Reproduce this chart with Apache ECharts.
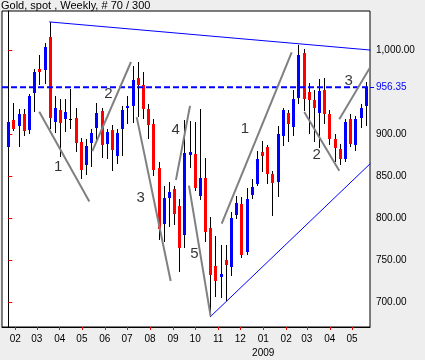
<!DOCTYPE html>
<html><head><meta charset="utf-8">
<script src="https://cdn.jsdelivr.net/npm/echarts@6/dist/echarts.min.js"></script>
<style>html,body{margin:0;padding:0;background:#eeeeee;}#c{width:425px;height:360px;}</style>
</head><body><div id="c"></div>
<script>
const titleText = 'Gold, spot , Weekly, # 70 / 300';
// weekly OHLC, 70 bars (late Jan 2008 .. late May 2009)
const openP  = [884.6,916.8,910.1,923.9,905.7,949.1,978.4,976.3,1016.6,914.8,929.0,918.0,918.0,920.0,890.5,863.6,889.6,907.4,927.8,888.4,905.4,873.9,907.0,931.0,933.8,967.3,958.8,929.8,912.1,860.1,793.0,824.2,835.2,814.5,780.0,875.8,876.6,827.3,848.0,788.7,743.5,730.3,750.8,741.7,804.3,817.7,759.5,828.5,841.1,878.6,885.3,853.0,843.0,898.3,926.0,909.4,943.7,996.9,950.3,940.5,925.9,953.5,923.9,894.4,883.0,870.7,918.8,887.0,920.0,933.8];
const highP  = [924.8,937.8,929.8,929.8,947.6,978.0,994.9,1008.8,1033.6,945.6,941.7,941.7,954.7,931.9,896.4,894.4,906.2,937.0,931.9,907.0,910.9,907.0,933.8,945.6,981.1,986.6,974.8,935.8,918.0,866.8,839.1,843.5,839.1,823.4,917.2,915.7,914.5,930.6,871.6,801.7,779.0,768.0,769.0,808.0,827.3,825.7,836.0,847.0,880.5,892.5,887.3,856.9,910.2,931.9,929.0,952.7,1006.7,1001.6,961.4,953.5,966.2,967.3,929.0,900.3,889.0,918.0,923.9,922.0,935.8,962.1];
const lowP   = [850.2,904.2,885.3,897.8,900.3,926.7,959.4,960.6,907.0,902.3,872.7,903.0,906.2,878.6,847.0,851.8,860.9,889.3,871.5,870.7,856.8,864.8,874.6,912.0,914.1,920.4,918.0,894.4,850.2,774.1,772.2,789.9,791.8,736.7,764.7,860.0,832.9,822.5,772.0,682.6,706.0,705.0,701.5,731.0,799.7,752.4,757.0,823.4,839.1,855.7,841.1,802.6,825.4,886.4,890.5,897.6,935.8,927.8,900.3,890.5,883.4,912.1,887.3,866.8,864.0,867.8,884.5,880.0,908.2,910.0];
const closeP = [914.8,906.5,923.9,904.2,946.4,974.8,974.0,1004.0,920.0,931.9,914.1,926.7,918.0,889.3,857.7,885.7,902.3,925.1,887.6,903.0,881.7,902.3,928.7,933.4,965.3,958.6,929.8,911.3,858.0,787.1,824.2,831.3,804.8,765.2,877.8,879.3,836.4,847.9,784.1,732.7,725.8,733.5,744.8,800.5,818.2,757.0,823.4,838.0,870.7,873.9,852.9,842.3,900.3,928.7,912.1,942.5,994.9,942.0,940.5,931.0,952.3,923.9,894.4,883.4,870.7,914.8,888.4,918.8,931.9,956.35];
const lastPrice = 956.35;
const firstBarDate = '2008-01-22T12:00:00Z';
const monthStarts = ['2008-02-01','2008-03-01','2008-04-01','2008-05-01','2008-06-01','2008-07-01','2008-08-01','2008-09-01','2008-10-01','2008-11-01','2008-12-01','2009-01-01','2009-02-01','2009-03-01','2009-04-01','2009-05-01'];
const monthLabels = ['02','03','04','05','06','07','08','09','10','11','12','01\n2009','02','03','04','05'];
const priceTicks = [700,750,800,850,900,1000];
// Elliott wave annotation lines (bar index, price)
const waveFrom = [[5.98,927.1],[16.22,880.2],[24.79,920.7],[32.37,845.9],[34.88,839.1],[41.2,793.8],[57.14,926.7],[63.9,918.0]];
const waveTo   = [[15.64,820.2],[23.69,986.3],[31.35,725.5],[35.08,934.0],[39.07,683.4],[54.71,997.6],[63.9,856.9],[69.9,980.4]];
const waveLabels = ['1','2','3','4','5','1','2','3'];
const waveLabelAt = [[9.65,861.6],[19.31,948.8],[25.56,824.2],[32.32,905.4],[35.91,758.3],[45.69,906.2],[59.54,875.4],[65.71,963.3]];
const resistanceLine = [[7.92,1034.0],[69.9,1000.5]];
const supportLine = [[39.07,683.4],[69.9,865.4]];

const xMin = -1.216, xMax = 69.83, yMin = 670.8, yMax = 1047.0;
const WEEK = 7*86400000;
const t0 = Date.parse(firstBarDate);
const monthPos = monthStarts.map(d => (Date.parse(d + 'T00:00:00Z') - t0) / WEEK);
const candles = openP.map((o,i) => [i, o, closeP[i], lowP[i], highP[i]]);
const FONT = 'Liberation Sans, Arial, sans-serif';

function fmtPrice(v){
  const s = v.toFixed(2); const parts = s.split('.');
  return parts[0].replace(/\B(?=(\d{3})+(?!\d))/g, ',') + '.' + parts[1];
}
function renderCandle(params, api){
  const i = api.value(0), o = api.value(1), c = api.value(2), l = api.value(3), h = api.value(4);
  const pH = api.coord([i,h]), pL = api.coord([i,l]), pO = api.coord([i,o]), pC = api.coord([i,c]);
  const cx = Math.round(pH[0]);
  const color = c > o ? '#0000ff' : (c < o ? '#ff0000' : '#000000');
  let top = Math.round(Math.min(pO[1],pC[1])), bot = Math.round(Math.max(pO[1],pC[1]));
  if (bot - top < 1) bot = top + 1;
  return {type:'group', children:[
    {type:'line', shape:{x1:cx+0.5,y1:Math.round(pH[1]),x2:cx+0.5,y2:Math.round(pL[1])}, style:{stroke:'#000',lineWidth:1}},
    {type:'rect', shape:{x:cx-1,y:top,width:3,height:bot-top}, style:{fill:color}}
  ]};
}
function lineSeries(pts, color, width, dash){
  return {type:'line', data:pts, showSymbol:false, symbol:'none', silent:true, animation:false,
    lineStyle:{color:color, width:width, type: dash || 'solid'}, z:5};
}
const series = [
  {type:'custom', renderItem:renderCandle, data:candles, encode:{x:0,y:[1,2,3,4]}, z:2, silent:true},
  lineSeries([[xMin,lastPrice],[xMax,lastPrice]], '#0000ff', 2, [6,3]),
  lineSeries(resistanceLine, '#0000ff', 1),
  lineSeries(supportLine, '#0000ff', 1)
];
waveFrom.forEach((f,k) => series.push(lineSeries([f, waveTo[k]], '#808080', 2)));
series.push({type:'scatter', data:waveLabelAt.map((p,k)=>[p[0],p[1],waveLabels[k]]), symbolSize:1,
  itemStyle:{color:'rgba(0,0,0,0)'}, silent:true, z:6,
  label:{show:true, position:'inside', formatter:p=>p.data[2], fontSize:15, color:'#000', fontFamily:FONT}});

const chart = echarts.init(document.getElementById('c'), null, {renderer:'canvas'});
chart.setOption({
  animation:false,
  backgroundColor:'#eeeeee',
  title:{text:titleText, left:1, top:0, padding:0, textStyle:{fontSize:11, fontWeight:'normal', color:'#000', fontFamily:FONT}},
  grid:{left:2, right:55, top:11, bottom:31, show:true, backgroundColor:'#ffffff', borderColor:'#000', borderWidth:1},
  xAxis:{type:'value', min:xMin, max:xMax, position:'bottom',
    axisLine:{show:true, lineStyle:{color:'#000'}},
    axisTick:{show:true, length:3, lineStyle:{color:'#ff0000'}, customValues:monthPos},
    axisLabel:{show:true, customValues:monthPos, margin:5, fontSize:10, color:'#000', fontFamily:FONT, lineHeight:14,
      formatter:v=>{const k=monthPos.findIndex(p=>Math.abs(p-v)<1e-6); return k>=0?monthLabels[k]:'';}},
    splitLine:{show:false}},
  yAxis:[
    {type:'value', min:yMin, max:yMax, position:'right',
      axisLine:{show:true, lineStyle:{color:'#000'}},
      axisTick:{show:true, length:4, lineStyle:{color:'#ff0000'}, customValues:priceTicks},
      axisLabel:{show:true, customValues:priceTicks, margin:6, fontSize:10, color:'#000', fontFamily:FONT, formatter:fmtPrice},
      splitLine:{show:false}},
    {type:'value', min:yMin, max:yMax, position:'right',
      axisLine:{show:false},
      axisTick:{show:true, length:4, lineStyle:{color:'#0000ff'}, customValues:[lastPrice]},
      axisLabel:{show:true, customValues:[lastPrice], margin:6, fontSize:10, color:'#0000ff', fontFamily:FONT, formatter:fmtPrice},
      splitLine:{show:false}}
  ],
  series:series
});
</script></body></html>
